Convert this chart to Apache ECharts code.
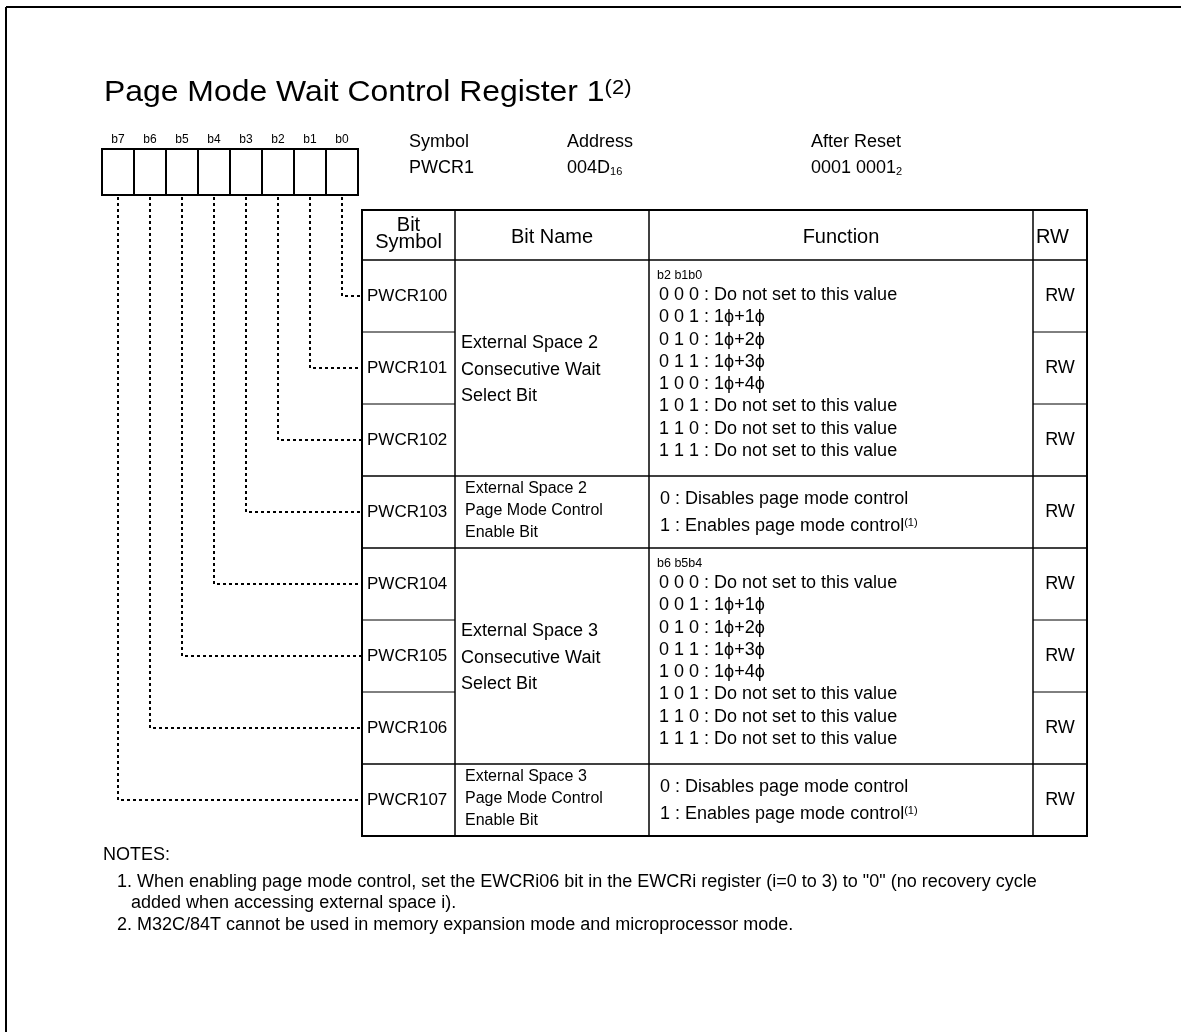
<!DOCTYPE html>
<html><head><meta charset="utf-8">
<script src="https://cdn.jsdelivr.net/npm/echarts@6/dist/echarts.min.js"></script>
<style>html,body{margin:0;padding:0;background:#fff}#c{width:1181px;height:1032px}</style>
</head><body><div id="c"></div>
<script>
// ---------------- data ----------------
const titleText = 'Page Mode Wait Control Register 1';
const titleNote = '(2)';
const bitLabels = ['b7', 'b6', 'b5', 'b4', 'b3', 'b2', 'b1', 'b0'];
const infoLabels = ['Symbol', 'Address', 'After Reset'];
const infoValues = [['PWCR1', ''], ['004D', '16'], ['0001 0001', '2']];
const headerLabels = ['Bit\nSymbol', 'Bit Name', 'Function', 'RW'];
const bitSymbols = ['PWCR100', 'PWCR101', 'PWCR102', 'PWCR103', 'PWCR104', 'PWCR105', 'PWCR106', 'PWCR107'];
const bitNameGroups = [
  { first: 0, last: 2, lines: ['External Space 2', 'Consecutive Wait', 'Select Bit'] },
  { first: 3, last: 3, lines: ['External Space 2', 'Page Mode Control', 'Enable Bit'] },
  { first: 4, last: 6, lines: ['External Space 3', 'Consecutive Wait', 'Select Bit'] },
  { first: 7, last: 7, lines: ['External Space 3', 'Page Mode Control', 'Enable Bit'] }
];
const waitOptions = [
  '0 0 0 : Do not set to this value',
  '0 0 1 : 1ϕ+1ϕ',
  '0 1 0 : 1ϕ+2ϕ',
  '0 1 1 : 1ϕ+3ϕ',
  '1 0 0 : 1ϕ+4ϕ',
  '1 0 1 : Do not set to this value',
  '1 1 0 : Do not set to this value',
  '1 1 1 : Do not set to this value'
];
const enableOptions = [['0 : Disables page mode control', ''], ['1 : Enables page mode control', '(1)']];
const functionGroups = [
  { first: 0, last: 2, heading: 'b2 b1b0', lines: waitOptions },
  { first: 3, last: 3, heading: '', lines: enableOptions },
  { first: 4, last: 6, heading: 'b6 b5b4', lines: waitOptions },
  { first: 7, last: 7, heading: '', lines: enableOptions }
];
const rwValues = ['RW', 'RW', 'RW', 'RW', 'RW', 'RW', 'RW', 'RW'];
const notesHeading = 'NOTES:';
const notes = [
  '1. When enabling page mode control, set the EWCRi06 bit in the EWCRi register (i=0 to 3) to "0" (no recovery cycle',
  'added when accessing external space i).',
  '2. M32C/84T cannot be used in memory expansion mode and microprocessor mode.'
];

// ---------------- layout (positions / styles) ----------------
const W = 1181, H = 1032;
const FONT = '"Liberation Sans", Arial, Helvetica, sans-serif';
const frame = { x: 6, y: 7, w: 2 };
const titlePos = { x: 104, y: 93, size: 29, sx: 1.1, supSize: 20 };
const reg = { x: 102, y: 149, cw: 32, h: 46, labelY: 140, labelSize: 12 };
const info = { xs: [409, 567, 811], y1: 142, y2: 168, size: 18, subSize: 11 };
const cols = [362, 455, 649, 1033, 1087];
const tableTop = 210, headerH = 50, rowH = 72;
const fs = { header: 20, symbol: 17, name: 18, nameSmall: 16, func: 18, funcHead: 12.5, rw: 18, sup: 11 };
const notesPos = { x: 103, y: 855, x1: 117, x2: 131, ys: [882, 903, 925], size: 18 };

const rowTop = i => tableTop + headerH + i * rowH;
const rowMid = i => rowTop(i) + rowH / 2;
const tableBottom = rowTop(bitSymbols.length);

// ---------------- build marks ----------------
const texts = [];
function T(x, y, text, size, opt) { texts.push(Object.assign({ x, y, text, size, align: 'left', va: 'middle', sx: 1 }, opt || {})); }
const rich = (main, sub, pos) => ({
  m: { fontSize: main, fontFamily: FONT, fill: '#000' },
  s: { fontSize: sub, fontFamily: FONT, fill: '#000', verticalAlign: pos }
});

T(titlePos.x, titlePos.y, '{m|' + titleText + '}{s|' + titleNote + '}', titlePos.size, {
  sx: titlePos.sx, rich: rich(titlePos.size, titlePos.supSize, 'top')
});
bitLabels.forEach((b, i) => T(reg.x + reg.cw * (i + 0.5), reg.labelY, b, reg.labelSize, { align: 'center' }));
infoLabels.forEach((l, i) => T(info.xs[i], info.y1, l, info.size));
infoValues.forEach((v, i) => T(info.xs[i], info.y2, '{m|' + v[0] + '}' + (v[1] ? '{s|' + v[1] + '}' : ''), info.size, {
  rich: rich(info.size, info.subSize, 'bottom')
}));
// header
T((cols[0] + cols[1]) / 2, tableTop + 24, headerLabels[0], fs.header, { align: 'center', lineHeight: 17 });
T((cols[1] + cols[2]) / 2, tableTop + 27, headerLabels[1], fs.header, { align: 'center' });
T((cols[2] + cols[3]) / 2, tableTop + 27, headerLabels[2], fs.header, { align: 'center' });
T(cols[3] + 3, tableTop + 27, headerLabels[3], fs.header);
// rows
bitSymbols.forEach((s, i) => T(cols[0] + 5, rowMid(i), s, fs.symbol));
rwValues.forEach((r, i) => T((cols[3] + cols[4]) / 2, rowMid(i), r, fs.rw, { align: 'center' }));
bitNameGroups.forEach(g => {
  const mid = (rowTop(g.first) + rowTop(g.last + 1)) / 2;
  const single = g.first === g.last;
  if (single) g.lines.forEach((l, k) => T(cols[1] + 10, mid - 1 + (k - 1) * 22, l, fs.nameSmall));
  else g.lines.forEach((l, k) => T(cols[1] + 6, mid + 2 + (k - 1) * 26.5, l, fs.name));
});
functionGroups.forEach(g => {
  const top = rowTop(g.first);
  if (g.first !== g.last) {
    T(cols[2] + 8, top + 16, g.heading, fs.funcHead);
    g.lines.forEach((l, k) => T(cols[2] + 10, top + 35 + k * 22.3, l, fs.func));
  } else {
    const mid = rowMid(g.first);
    g.lines.forEach((l, k) => T(cols[2] + 11, mid + (k === 0 ? -13 : 14),
      '{m|' + l[0] + '}' + (l[1] ? '{s|' + l[1] + '}' : ''), fs.func, { rich: rich(fs.func, fs.sup, 'top') }));
  }
});
T(notesPos.x, notesPos.y, notesHeading, notesPos.size);
T(notesPos.x1, notesPos.ys[0], notes[0], notesPos.size);
T(notesPos.x2, notesPos.ys[1], notes[1], notesPos.size);
T(notesPos.x1, notesPos.ys[2], notes[2], notesPos.size);

// line segments
const segs = [];
function S(x1, y1, x2, y2, w) { segs.push({ p: [[x1, y1], [x2, y2]], w }); }
S(frame.x, frame.y, W + 5, frame.y, frame.w);
S(frame.x, frame.y, frame.x, H + 5, frame.w);
S(reg.x - 1, reg.y, reg.x + reg.cw * 8 + 1, reg.y, 2);
S(reg.x - 1, reg.y + reg.h, reg.x + reg.cw * 8 + 1, reg.y + reg.h, 2);
for (let i = 0; i <= 8; i++) S(reg.x + reg.cw * i, reg.y, reg.x + reg.cw * i, reg.y + reg.h, 2);
S(cols[0] - 1, tableTop, cols[4] + 1, tableTop, 2);
S(cols[0] - 1, tableBottom, cols[4] + 1, tableBottom, 2);
S(cols[0], tableTop, cols[0], tableBottom, 2);
S(cols[4], tableTop, cols[4], tableBottom, 2);
for (let c = 1; c < 4; c++) S(cols[c], tableTop, cols[c], tableBottom, 1.5);
S(cols[0], tableTop + headerH, cols[4], tableTop + headerH, 1.5);
const groupEnds = bitNameGroups.map(g => g.last);
for (let i = 0; i < bitSymbols.length - 1; i++) {
  const y = rowTop(i + 1);
  if (groupEnds.indexOf(i) >= 0) S(cols[0], y, cols[4], y, 1.5);
  else { S(cols[0], y, cols[1], y, 1); S(cols[3], y, cols[4], y, 1); }
}
const conns = bitLabels.map((b, i) => {
  const row = bitLabels.length - 1 - i;
  const cx = reg.x + reg.cw * (i + 0.5);
  return [[cx, reg.y + reg.h + 2], [cx, rowMid(row)], [cols[0], rowMid(row)]];
});

// ---------------- chart ----------------
const chart = echarts.init(document.getElementById('c'), null, { renderer: 'canvas' });
const idx = arr => arr.map((_, i) => [i]);
chart.setOption({
  animation: false,
  backgroundColor: '#fff',
  grid: { left: 0, right: 0, top: 0, bottom: 0 },
  xAxis: { type: 'value', min: 0, max: W, show: false },
  yAxis: { type: 'value', min: 0, max: H, inverse: true, show: false },
  series: [
    {
      type: 'custom', coordinateSystem: 'cartesian2d', silent: true, data: idx(segs), clip: false,
      renderItem: (p, api) => {
        const s = segs[api.value(0)];
        const a = api.coord(s.p[0]), b = api.coord(s.p[1]);
        return { type: 'line', shape: { x1: a[0], y1: a[1], x2: b[0], y2: b[1] }, style: { stroke: '#000', lineWidth: s.w } };
      }
    },
    {
      type: 'custom', coordinateSystem: 'cartesian2d', silent: true, data: idx(conns), clip: false,
      renderItem: (p, api) => {
        const pts = conns[api.value(0)].map(q => api.coord(q));
        return { type: 'polyline', shape: { points: pts }, style: { stroke: '#000', lineWidth: 2, lineDash: [3, 3], fill: null } };
      }
    },
    {
      type: 'custom', coordinateSystem: 'cartesian2d', silent: true, data: idx(texts), clip: false,
      renderItem: (p, api) => {
        const t = texts[api.value(0)];
        const c = api.coord([t.x, t.y]);
        const style = { text: t.text, x: 0, y: 0, fill: '#000', fontSize: t.size, fontFamily: FONT, align: t.align, verticalAlign: t.va };
        if (t.lineHeight) style.lineHeight = t.lineHeight;
        if (t.rich) style.rich = t.rich;
        return { type: 'text', x: c[0], y: c[1], scaleX: t.sx, style };
      }
    }
  ]
});
</script>
</body></html>
